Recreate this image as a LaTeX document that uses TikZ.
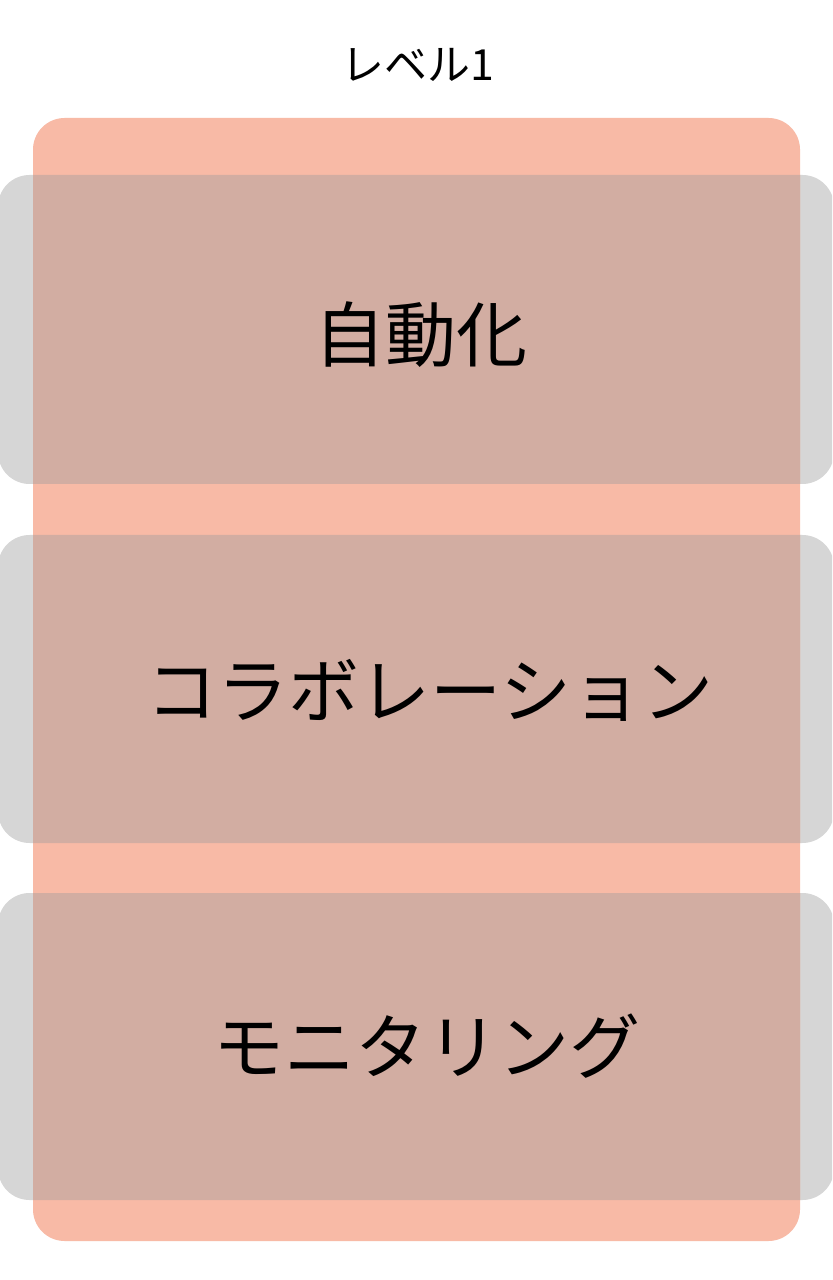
\documentclass[tikz,border=0pt]{standalone}
\usepackage{fontspec}
\setmainfont{Noto Sans CJK JP}
\definecolor{salmon}{HTML}{F8BAA6}
\definecolor{band}{HTML}{D6D6D6}
\definecolor{overlap}{HTML}{D2ADA2}
\begin{document}
\begin{tikzpicture}[x=0.01cm,y=-0.01cm,
  bandbox/.style={fill=band,rounded corners=9pt},
  labeltext/.style={font=\fontsize{20.2pt}{23pt}\selectfont,text=black}]
\useasboundingbox (0,0) rectangle (832,1280);
\fill[white] (0,0) rectangle (832,1280);
\clip (0,0) rectangle (832,1280);
% gray bands
\fill[bandbox] (-2,175) rectangle (834,484);
\fill[bandbox] (-2,535) rectangle (834,843);
\fill[bandbox] (-2,893) rectangle (834,1200);
% salmon container
\fill[salmon,rounded corners=9pt] (33,118) rectangle (800,1241);
% overlaps
\begin{scope}
  \clip[rounded corners=9pt] (33,118) rectangle (800,1241);
  \fill[overlap,rounded corners=9pt] (-2,175) rectangle (834,484);
  \fill[overlap,rounded corners=9pt] (-2,535) rectangle (834,843);
  \fill[overlap,rounded corners=9pt] (-2,893) rectangle (834,1200);
\end{scope}
\node[font=\fontsize{12.2pt}{14pt}\selectfont] (title) at (418,65) {レベル1};
\node[labeltext] (a) at (421,335) {自動化};
\node[labeltext] (b) at (430,690) {コラボレーション};
\node[labeltext] (c) at (427,1046) {モニタリング};
\end{tikzpicture}
\end{document}
